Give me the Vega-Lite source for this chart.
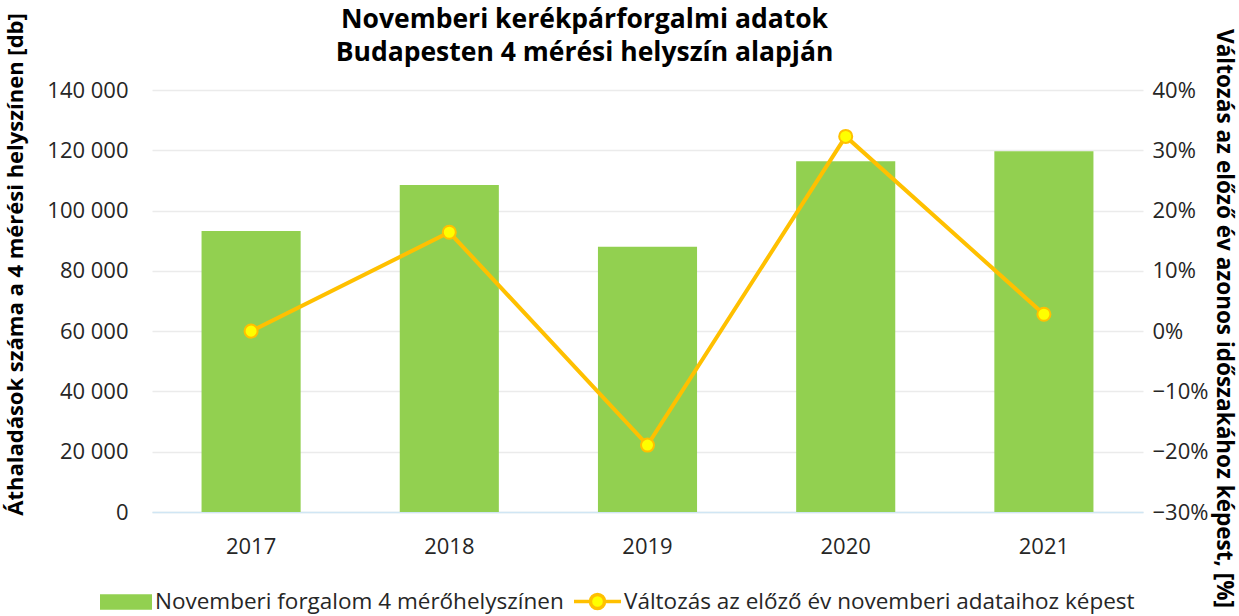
{
  "$schema": "https://vega.github.io/schema/vega-lite/v6.json",
  "width": 991,
  "height": 422,
  "autosize": {"type": "none"},
  "padding": {"left": 152, "top": 90, "right": 96, "bottom": 104},
  "background": "white",
  "config": {
    "font": "Open Sans",
    "view": {"stroke": null},
    "axis": {"labelFont": "Open Sans", "titleFont": "Open Sans", "labelColor": "#262626", "titleColor": "#000000"}
  },
  "title": {
    "text": ["Novemberi kerékpárforgalmi adatok", "Budapesten 4 mérési helyszín alapján"],
    "font": "Open Sans",
    "fontSize": 26.5,
    "fontWeight": "bold",
    "color": "#000000",
    "anchor": "middle",
    "dx": -63,
    "dy": 46,
    "offset": -8,
    "lineHeight": 33
  },
  "data": {
    "values": [
      {"ev": "2017", "forgalom": 93200, "valtozas": 0.0},
      {"ev": "2018", "forgalom": 108500, "valtozas": 0.164},
      {"ev": "2019", "forgalom": 88000, "valtozas": -0.189},
      {"ev": "2020", "forgalom": 116400, "valtozas": 0.323},
      {"ev": "2021", "forgalom": 119700, "valtozas": 0.028}
    ]
  },
  "encoding": {
    "x": {
      "field": "ev",
      "type": "nominal",
      "scale": {"paddingInner": 0.5, "paddingOuter": 0.25},
      "axis": {
        "title": null,
        "labelAngle": 0,
        "labelFontSize": 22,
        "labelPadding": 24,
        "ticks": false,
        "domainColor": "#d0e6f4",
        "domainWidth": 1.5,
        "grid": false
      }
    }
  },
  "layer": [
    {
      "mark": {"type": "bar"},
      "encoding": {
        "y": {
          "field": "forgalom",
          "type": "quantitative",
          "scale": {"domain": [0, 140000], "nice": false},
          "axis": {
            "title": "Áthaladások száma a 4 mérési helyszínen [db]",
            "titleFontSize": 22,
            "titleFontWeight": "bold",
            "titleX": -125,
            "titleY": 174,
            "titleAngle": -90,
            "titleBaseline": "bottom",
            "values": [0, 20000, 40000, 60000, 80000, 100000, 120000, 140000],
            "labelExpr": "replace(format(datum.value, ','), ',', ' ')",
            "labelFontSize": 22,
            "labelPadding": 24,
            "ticks": false,
            "domain": false,
            "grid": true,
            "gridColor": "#ebebeb",
            "gridWidth": 1.5
          }
        },
        "color": {
          "datum": "Novemberi forgalom 4 mérőhelyszínen",
          "type": "nominal",
          "scale": {"range": ["#92d050"]},
          "legend": {
            "title": null,
            "orient": "none",
            "legendX": -52,
            "legendY": 486,
            "padding": 0,
            "labelFontSize": 22.5,
            "labelLimit": 1000,
            "labelColor": "#262626",
            "labelOffset": 3,
            "symbolType": "M-1,-0.3H1V0.3H-1Z",
            "symbolSize": 2704,
            "symbolStrokeWidth": 0
          }
        }
      }
    },
    {
      "mark": {"type": "line", "strokeWidth": 4},
      "encoding": {
        "y": {
          "field": "valtozas",
          "type": "quantitative",
          "scale": {"domain": [-0.3, 0.4], "nice": false},
          "axis": {
            "orient": "right",
            "title": "Változás az előző év azonos időszakához képest, [%]",
            "titleFontSize": 22.5,
            "titleFontWeight": "bold",
            "titleAngle": 90,
            "titleBaseline": "bottom",
            "titleX": 68,
            "titleY": 228,
            "format": ".0%",
            "values": [-0.3, -0.2, -0.1, 0, 0.1, 0.2, 0.3, 0.4],
            "labelFontSize": 22,
            "labelPadding": 9,
            "ticks": false,
            "domain": false,
            "grid": false
          }
        },
        "stroke": {
          "datum": "Változás az előző év novemberi adataihoz képest",
          "type": "nominal",
          "scale": {"range": ["#ffc000"]},
          "legend": {
            "title": null,
            "orient": "none",
            "legendX": 420,
            "legendY": 486,
            "padding": 0,
            "labelFontSize": 22.5,
            "labelLimit": 1000,
            "labelColor": "#262626",
            "labelOffset": 1,
            "symbolType": "M-1,0H-0.3M0.3,0H1M-0.3,0A0.3,0.3 0 1,0 0.3,0A0.3,0.3 0 1,0 -0.3,0Z",
            "symbolSize": 2209,
            "symbolFillColor": "#ffff00",
            "symbolStrokeColor": "#ffc000",
            "symbolStrokeWidth": 3.5
          }
        }
      }
    },
    {
      "mark": {"type": "point", "shape": "circle", "filled": true, "fill": "#ffff00", "stroke": "#ffc000", "strokeWidth": 2, "size": 170, "opacity": 1},
      "encoding": {
        "y": {"field": "valtozas", "type": "quantitative", "scale": {"domain": [-0.3, 0.4], "nice": false}, "axis": null}
      }
    }
  ],
  "resolve": {"scale": {"y": "independent", "color": "independent"}}
}
